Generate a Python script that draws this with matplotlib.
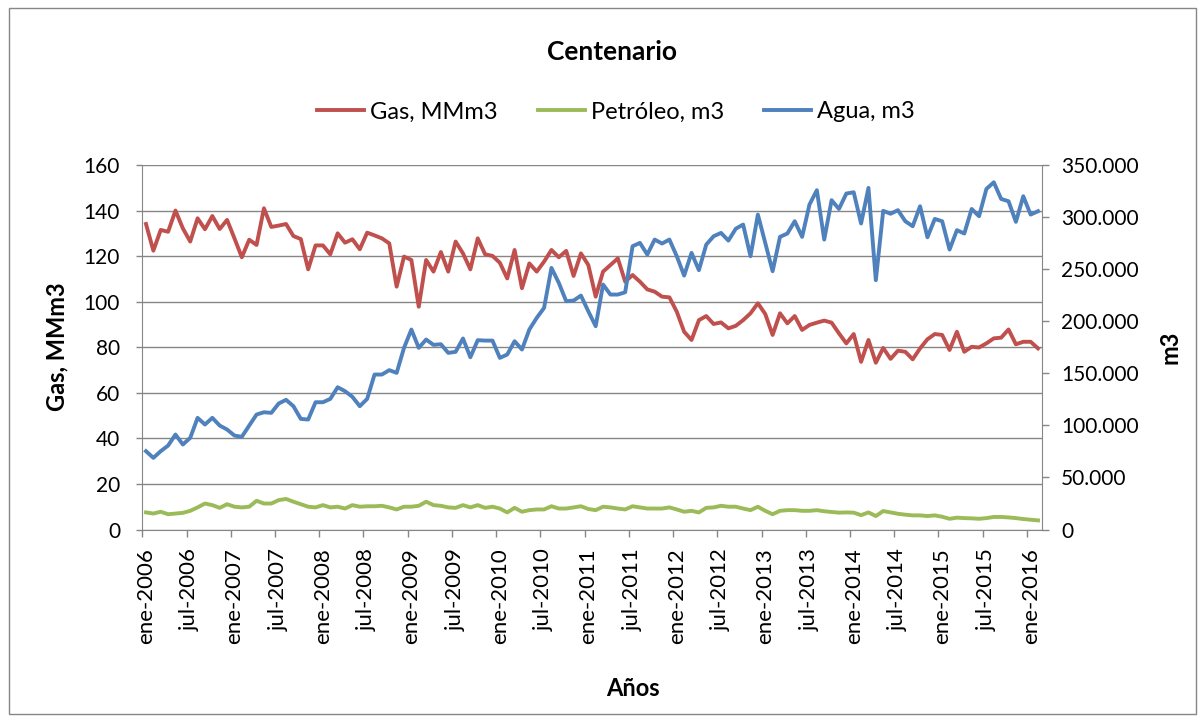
import matplotlib
matplotlib.use('Agg')
import matplotlib.pyplot as plt
from matplotlib.patches import Rectangle
from matplotlib.ticker import FuncFormatter, MultipleLocator, FixedLocator
import numpy as np

plt.rcParams['font.family'] = ['Lato', 'DejaVu Sans']

# Monthly data ene-2006 .. feb-2016
gas = [134.1, 122.4, 131.5, 130.7, 140.0, 132.2, 126.4, 136.6, 131.8, 137.6,
       131.9, 135.9, 127.8, 119.5, 127.2, 124.9, 141.0, 132.8, 133.4, 134.1,
       128.8, 127.5, 114.2, 124.7, 124.7, 120.8, 130.0, 125.9, 127.4, 123.0,
       130.3, 129.1, 127.8, 125.6, 106.6, 119.8, 118.3, 97.8, 118.3, 113.2,
       121.8, 113.2, 126.4, 121.2, 114.2, 127.8, 120.8, 120.1, 117.1, 110.2,
       122.7, 105.9, 116.8, 113.2, 117.6, 122.7, 119.5, 122.3, 111.3, 121.2,
       116.1, 102.2, 113.2, 116.1, 119.0, 108.8, 111.7, 108.8, 105.4, 104.4,
       102.2, 101.9, 95.6, 86.8, 83.2, 91.9, 93.7, 90.2, 90.9, 88.3,
       89.4, 91.9, 94.9, 99.3, 94.6, 85.4, 94.9, 90.5, 93.7, 87.6,
       89.8, 90.8, 91.7, 90.8, 86.1, 81.7, 85.8, 73.6, 83.2, 73.2,
       79.7, 74.9, 78.5, 78.0, 74.7, 79.5, 83.5, 85.8, 85.4, 78.8,
       86.8, 78.0, 80.2, 79.9, 81.7, 83.9, 84.2, 87.8, 81.3, 82.4,
       82.4, 79.5]

petroleo = [7.5, 7.0, 7.8, 6.7, 7.0, 7.3, 8.2, 9.7, 11.4, 10.7,
            9.5, 11.1, 10.0, 9.7, 10.0, 12.6, 11.4, 11.4, 12.9, 13.4,
            12.2, 11.1, 10.0, 9.7, 10.7, 9.7, 10.0, 9.2, 10.7, 10.0,
            10.2, 10.2, 10.4, 9.7, 8.8, 10.0, 10.0, 10.4, 12.2, 10.7,
            10.4, 9.7, 9.5, 10.7, 9.7, 10.7, 9.5, 10.0, 9.2, 7.5,
            9.5, 7.8, 8.5, 8.8, 8.8, 10.2, 9.2, 9.2, 9.7, 10.2,
            9.0, 8.5, 10.0, 9.7, 9.2, 8.8, 10.2, 9.7, 9.2, 9.2,
            9.2, 9.7, 8.8, 7.8, 8.2, 7.5, 9.5, 9.7, 10.4, 10.0,
            10.0, 9.2, 8.5, 10.0, 8.2, 6.7, 8.2, 8.5, 8.5, 8.2,
            8.2, 8.5, 8.0, 7.7, 7.4, 7.5, 7.4, 6.3, 7.5, 5.9,
            8.1, 7.5, 6.9, 6.5, 6.2, 6.2, 5.9, 6.2, 5.6, 4.7,
            5.2, 5.0, 4.9, 4.7, 5.0, 5.5, 5.5, 5.3, 5.0, 4.6,
            4.3, 4.0]

agua = [75200, 68800, 75200, 80600, 91200, 81600, 88000, 107200, 100800, 107200,
        99800, 96000, 90200, 89000, 99800, 110400, 112600, 112000, 121000, 124500,
        118400, 106200, 105600, 122200, 122200, 125400, 136600, 132800, 127400, 118400,
        125400, 148800, 148800, 153000, 150400, 174400, 192000, 174400, 182400, 177300,
        177900, 169600, 170600, 183400, 165400, 181800, 181400, 181400, 164800, 168000,
        180800, 172800, 192000, 203200, 212800, 251200, 236800, 219200, 219800, 224600,
        209500, 195200, 235200, 225600, 225600, 227800, 272000, 275200, 264000, 278400,
        274600, 278400, 262400, 243800, 265600, 249000, 273600, 281600, 284800, 277400,
        288800, 292800, 262400, 302400, 275200, 248000, 281000, 284200, 296000, 281000,
        312000, 325800, 278400, 316200, 307800, 322600, 323800, 293800, 328000, 239400,
        306000, 303200, 306600, 296000, 291200, 310400, 280600, 298200, 296000, 268800,
        287400, 284200, 307800, 300800, 327000, 333400, 317400, 315200, 295400, 320000,
        302400, 305600]

tick_labels = ['ene-2006', 'jul-2006', 'ene-2007', 'jul-2007', 'ene-2008', 'jul-2008',
               'ene-2009', 'jul-2009', 'ene-2010', 'jul-2010', 'ene-2011', 'jul-2011',
               'ene-2012', 'jul-2012', 'ene-2013', 'jul-2013', 'ene-2014', 'jul-2014',
               'ene-2015', 'jul-2015', 'ene-2016']
series_names = ['Gas, MMm3', 'Petróleo, m3', 'Agua, m3']

W, H = 1204, 722
n = len(gas)
x = np.arange(n)
grey = '#868686'

fig = plt.figure(figsize=(W / 100, H / 100), dpi=100)
fig.patches.append(Rectangle((9 / W, 8 / H), (1196 - 9) / W, (714 - 8) / H,
                             transform=fig.transFigure, fill=False,
                             edgecolor=grey, lw=1))

ax = fig.add_axes([142.3 / W, 1 - 529.5 / H, 899.4 / W, 364.5 / H])
ax2 = ax.twinx()

l1, = ax.plot(x, gas, color='#C0504D', lw=2.8, solid_joinstyle='round', zorder=3)
l2, = ax.plot(x, petroleo, color='#9BBB59', lw=2.8, solid_joinstyle='round', zorder=3)
l3, = ax2.plot(x, agua, color='#4F81BD', lw=2.8, solid_joinstyle='round', zorder=3)

ax.set_xlim(-0.5, n - 0.5)
ax.set_ylim(0, 160)
ax2.set_ylim(0, 350000)
ax.yaxis.set_major_locator(MultipleLocator(20))
ax2.yaxis.set_major_locator(MultipleLocator(50000))
ax2.yaxis.set_major_formatter(FuncFormatter(lambda v, p: f"{int(round(v)):,}".replace(',', '.')))

label_pos = np.arange(0, n, 6)[:len(tick_labels)]
ax.xaxis.set_major_locator(FixedLocator(label_pos))
ax.set_xticklabels(tick_labels, rotation=90, fontsize=16)
ax.xaxis.set_minor_locator(FixedLocator(np.arange(-0.5, n, 6)))
ax.tick_params(axis='x', which='major', length=0, pad=13.5)
ax.tick_params(axis='x', which='minor', length=5, width=1, color=grey, direction='out')
ax.tick_params(axis='y', length=4, width=1, color=grey, pad=12, labelsize=15)
ax2.tick_params(axis='y', length=5, width=1, color=grey, pad=9, labelsize=15)

ax.grid(axis='y', color=grey, lw=1)
ax.set_axisbelow(True)
for s in ['top', 'right']:
    ax.spines[s].set_visible(False)
for s in ['top', 'left', 'bottom']:
    ax2.spines[s].set_visible(False)
for s in ['left', 'bottom']:
    ax.spines[s].set_color(grey)
ax2.spines['right'].set_color(grey)

fig.text(57 / W, 1 - 347 / H, 'Gas, MMm3', rotation=90, ha='center', va='center',
         fontsize=17, fontweight='bold')
fig.text(1170 / W, 1 - 347 / H, 'm3', rotation=90, ha='center', va='center',
         fontsize=17, fontweight='bold')
fig.text(633 / W, 1 - 688 / H, 'Años', ha='center', va='center',
         fontsize=17, fontweight='bold')
fig.text(612 / W, 1 - 52 / H, 'Centenario', ha='center', va='center',
         fontsize=19, fontweight='bold')

fig.legend([l1, l2, l3], series_names, ncol=3, loc='center',
           bbox_to_anchor=(616 / W, 1 - 112 / H), frameon=False, fontsize=17,
           handlelength=2.0, handletextpad=0.25, columnspacing=1.7,
           borderpad=0, borderaxespad=0)

fig.savefig('out.png', dpi=100)
